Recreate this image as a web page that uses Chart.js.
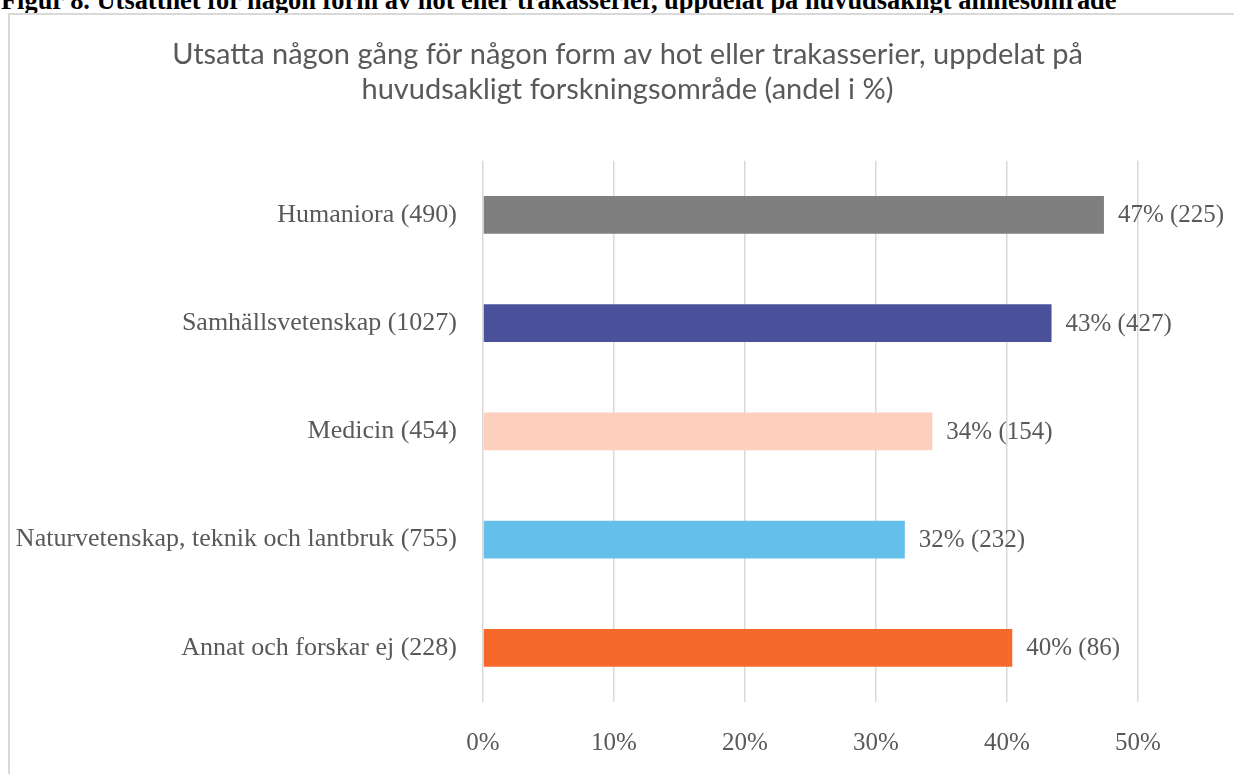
<!DOCTYPE html>
<html>
<head>
<meta charset="utf-8">
<script src="https://cdn.jsdelivr.net/npm/chart.js@4/dist/chart.umd.min.js"></script>
<style>
  html, body { margin: 0; padding: 0; background: #fff; overflow: hidden; width: 1234px; height: 774px; }
  .caption {
    position: absolute; left: 1px; top: -15px; white-space: nowrap; line-height: 26px;
    font: bold 26.4px 'Liberation Serif', serif; color: #000;
  }
  .frame {
    position: absolute; left: 8px; top: 13px; width: 1300px; height: 800px;
    border: 2px solid #d9d9d9; box-sizing: border-box;
  }
  #wrap { position: absolute; left: 9px; top: 14px; width: 1237px; height: 760px; }
</style>
</head>
<body>
<div class="caption">Figur 8. Utsatthet för någon form av hot eller trakasserier, uppdelat på huvudsakligt ämnesområde</div>
<div class="frame"></div>
<div id="wrap"><canvas id="chart"></canvas></div>
<script>
// Data
const categories = [
  'Humaniora (490)',
  'Samhällsvetenskap (1027)',
  'Medicin (454)',
  'Naturvetenskap, teknik och lantbruk (755)',
  'Annat och forskar ej (228)'
];
const shares = [47.4, 43.4, 34.3, 32.2, 40.4];
const valueLabels = ['47% (225)', '43% (427)', '34% (154)', '32% (232)', '40% (86)'];
const barColors = ['#7f7f7f', '#4b509b', '#fcd0bd', '#64bfea', '#f6692b'];
const xTicks = [0, 10, 20, 30, 40, 50];

const textGray = '#595959';
const serif = "'Liberation Serif', serif";

// etiketter till höger om staplarna
const barLabels = {
  id: 'barLabels',
  afterDatasetsDraw(chart) {
    const ctx = chart.ctx;
    const meta = chart.getDatasetMeta(0);
    ctx.save();
    ctx.font = '25px ' + serif;
    ctx.fillStyle = textGray;
    ctx.textAlign = 'left';
    ctx.textBaseline = 'middle';
    meta.data.forEach((bar, i) => {
      ctx.fillText(valueLabels[i], bar.x + 14, bar.y + 1);
    });
    ctx.restore();
  }
};

// titeln ska centreras över hela ramen, inte bara den vadderade ytan
const fullWidthTitle = {
  id: 'fullWidthTitle',
  afterLayout(chart) {
    const t = chart.titleBlock;
    if (!t) return;
    t.left = 0;
    t.right = chart.width;
    t.width = chart.width;
  }
};

new Chart(document.getElementById('chart'), {
  type: 'bar',
  data: {
    labels: categories,
    datasets: [{
      data: shares,
      backgroundColor: barColors,
      borderWidth: 0,
      categoryPercentage: 1,
      barPercentage: 0.35
    }]
  },
  options: {
    indexAxis: 'y',
    responsive: true,
    maintainAspectRatio: false,
    animation: false,
    layout: { padding: { top: 0, right: 108, bottom: 0, left: 0 } },
    plugins: {
      legend: { display: false },
      tooltip: { enabled: false },
      title: {
        display: true,
        text: [
          'Utsatta någon gång för någon form av hot eller trakasserier, uppdelat på',
          'huvudsakligt forskningsområde (andel i %)'
        ],
        color: textGray,
        font: { family: 'Lato', size: 29, weight: 'normal', lineHeight: 1.22 },
        padding: { top: 23, bottom: 53 }
      }
    },
    scales: {
      x: {
        min: 0,
        max: 50,
        afterBuildTicks: (scale) => { scale.ticks = xTicks.map(v => ({ value: v })); },
        afterFit: (scale) => { scale.height = 72; },
        grid: { color: '#d9d9d9', lineWidth: 1.5, drawTicks: false },
        border: { display: false },
        ticks: {
          padding: 26,
          color: textGray,
          font: { family: serif, size: 25 },
          callback: (v) => v + '%'
        }
      },
      y: {
        afterFit: (scale) => { scale.width = 474; },
        grid: { display: false, drawTicks: false },
        border: { display: false },
        ticks: {
          padding: 26,
          color: textGray,
          font: { family: serif, size: 26 }
        }
      }
    }
  },
  plugins: [barLabels, fullWidthTitle]
});
</script>
</body>
</html>
